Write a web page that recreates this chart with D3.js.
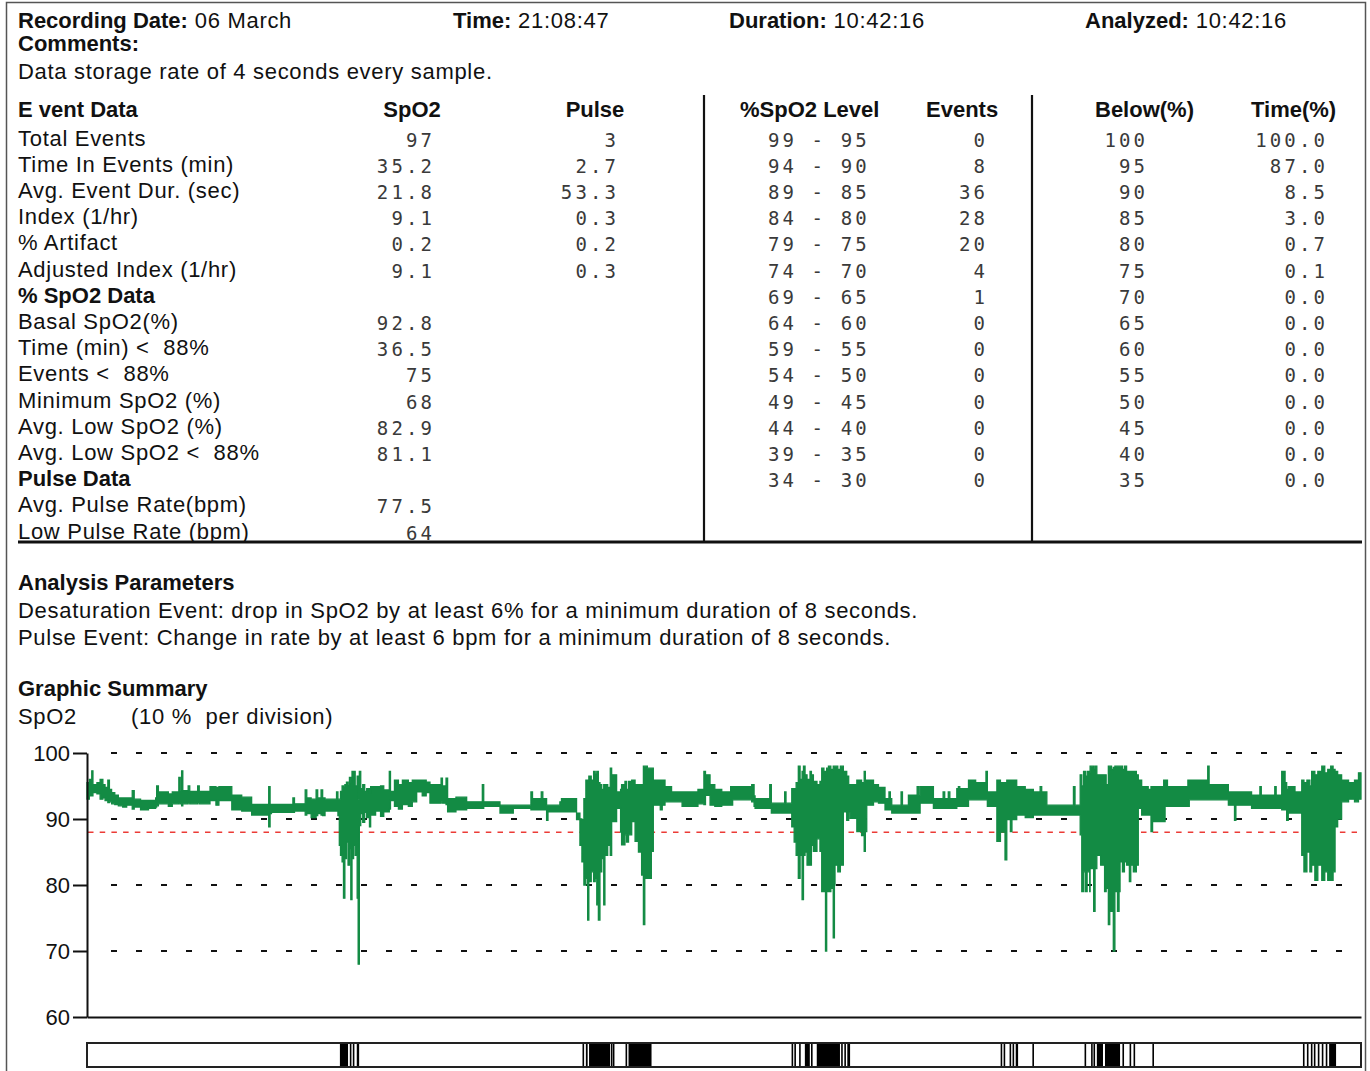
<!DOCTYPE html>
<html>
<head>
<meta charset="utf-8">
<script src="https://cdn.jsdelivr.net/npm/d3@7/dist/d3.min.js"></script>
<style>
  html, body { margin: 0; padding: 0; background: #fff; }
  svg { display: block; }
  text { font-family: "Liberation Sans", Arial, sans-serif; fill: #111; white-space: pre; }
  .b { font-weight: bold; }
  .n { letter-spacing: 0.7px; }
  .num { font-family: "DejaVu Sans Mono", "Liberation Mono", monospace; fill: #3a3a3a; font-size: 19px; letter-spacing: 3.1px; }
</style>
</head>
<body>
<svg id="rep" width="1370" height="1071"></svg>
<script>
// ---- Report header ----
const headerFields = [
  ["Recording Date:", "06 March"],
  ["Time:", "21:08:47"],
  ["Duration:", "10:42:16"],
  ["Analyzed:", "10:42:16"]
];
const commentText = "Data storage rate of 4 seconds every sample.";

// ---- Event data table (label, SpO2, Pulse); null values = section heading ----
const eventLabels = [
  "Total Events", "Time In Events (min)", "Avg. Event Dur. (sec)", "Index (1/hr)",
  "% Artifact", "Adjusted Index (1/hr)", "% SpO2 Data", "Basal SpO2(%)",
  "Time (min) <  88%", "Events <  88%", "Minimum SpO2 (%)", "Avg. Low SpO2 (%)",
  "Avg. Low SpO2 <  88%", "Pulse Data", "Avg. Pulse Rate(bpm)", "Low Pulse Rate (bpm)"
];
const eventSpO2  = ["97", "35.2", "21.8", "9.1", "0.2", "9.1", null, "92.8", "36.5", "75", "68", "82.9", "81.1", null, "77.5", "64"];
const eventPulse = ["3", "2.7", "53.3", "0.3", "0.2", "0.3", null, null, null, null, null, null, null, null, null, null];
const sectionRows = ["% SpO2 Data", "Pulse Data"];

// ---- SpO2 level distribution ----
const levelBands  = ["99 - 95", "94 - 90", "89 - 85", "84 - 80", "79 - 75", "74 - 70", "69 - 65",
                     "64 - 60", "59 - 55", "54 - 50", "49 - 45", "44 - 40", "39 - 35", "34 - 30"];
const levelEvents = [0, 8, 36, 28, 20, 4, 1, 0, 0, 0, 0, 0, 0, 0];
const belowPct    = [100, 95, 90, 85, 80, 75, 70, 65, 60, 55, 50, 45, 40, 35];
const timePct     = ["100.0", "87.0", "8.5", "3.0", "0.7", "0.1", "0.0", "0.0", "0.0", "0.0", "0.0", "0.0", "0.0", "0.0"];

// ---- Analysis parameters ----
const paramLines = [
  "Desaturation Event: drop in SpO2 by at least 6% for a minimum duration of 8 seconds.",
  "Pulse Event: Change in rate by at least 6 bpm for a minimum duration of 8 seconds."
];

// ---- SpO2 trend: [minute, low, high] band held until the next entry ----
const recordingMinutes = 642.27;
const spo2Bands = [
  [0,93,95.5],[1.2,93.5,96],[2.4,93.5,97.3],[3.0,94,95.2],[5.0,93.8,95.5],[6.6,93,96],[8.0,93.2,95.2],
  [9.1,92.8,94.8],[10.5,92.5,95.9],[11.3,92.6,94.5],[12.4,92.3,94],[14.0,92.2,93.6],[15.8,92,93.2],
  [18.0,91.8,93.2],[20.0,92.1,93.2],[22.8,91.5,94.3],[23.8,91.8,93],[27.0,91.4,92.8],[31.0,91.6,92.8],
  [34.6,91.8,93.2],[35.1,92,95],[36.0,92.3,94.1],[41.0,91.9,93.8],[43.0,92.3,94.1],[46.3,92.5,96.3],
  [47.0,92.3,94.2],[47.7,92,97.3],[48.3,92.3,94.3],[51.0,92.5,95],[51.8,92.3,94.2],[55.8,92.5,95],
  [56.6,92.3,94.2],[62.0,92.8,94.9],[65.0,92.1,94.8],[66.5,92.8,94.9],[73.0,91.4,93.6],[78.0,91.2,93.3],
  [83.0,90.6,92.2],[91.6,88.8,94.9],[92.3,90.8,92.2],[93.0,91,92.2],[103.8,91,93.2],[104.6,91.2,92.3],
  [110.0,90.6,94.4],[110.8,90.8,93.2],[113.0,90.2,93],[115.5,90.5,94.4],[116.3,90.8,93.2],[118.0,90.6,94.4],
  [118.8,90.5,93.2],[120.0,91.2,93],[125.8,91.2,94.1],[126.5,90.5,93],
  [127.2,86,93],[127.8,84.5,94.2],[128.6,83.5,95],[129.3,78,94.8],[130.0,84,95.2],[130.8,86.5,95.6],
  [131.6,83,95],[132.3,85.5,96.3],[133.0,77.8,95.5],[133.6,84,97.2],[134.4,86,97.2],[135.2,84.5,95],
  [136.2,78,96.5],[136.7,68,93],[137.3,89,97.2],[138.0,90.8,94.6],[139.0,89.5,95.2],[140.0,91,94.2],
  [141.0,90.2,94.6],[142.4,88.8,94.0],[143.0,90.6,94.9],[145.5,91.2,94.9],[148.0,90.4,95],[149.6,91.1,94.4],
  [152.4,91.5,97.2],[153.0,92.8,94.2],[155.0,91.9,95.9],[157.0,91.5,95.2],[159.0,92.2,95.9],[162.0,91.9,95.5],
  [164.0,92.6,95.9],[166.2,94.1,95.9],[169.0,93.5,95.9],[171.0,94,95.6],[172.9,92.4,95.2],[178.5,92.6,96.2],
  [179.2,92.4,95],[181.0,92.2,96.2],[181.8,91.1,93.1],[186.0,91.4,93.3],[191.4,91.6,92.6],[199.3,91.6,95.2],
  [200.0,91.9,92.6],[208.2,90.9,92.1],[214.9,91.6,92.1],[223.8,91.4,94.1],[224.6,91.4,93.1],[229.0,91.4,94.1],
  [229.8,91.4,93.1],[231.7,89.8,92.1],[232.4,91.1,92.1],[238.4,91.1,92.6],[239.2,91.1,93.1],[243.2,91.1,93.1],
  [246.8,89.9,90.9],
  [248.5,86,90],[249.5,83.5,89.9],[250.5,80,93.1],[251.5,81,95.9],[252.4,74.7,95.5],[253.0,80.5,96.5],
  [254.2,82,95.9],[255.4,80.5,97.2],[256.2,81,96.8],[257.0,77,97.2],[257.8,74.7,95.5],[258.6,82,95.2],
  [259.5,84,94.5],[260.5,77,95.2],[261.1,84.5,95.2],[262.5,86,94.8],[263.8,84.5,97.7],[264.5,89.6,96.7],
  [267.0,91.6,94.1],[269.0,88,94.5],[269.5,86.1,95.2],[271.2,87.6,95.7],[272.0,86.5,94.5],[273.0,87.6,95.7],
  [274.6,89.6,95.9],[276.3,86.6,95.2],[278.0,85,95.2],[279.6,81.5,95.2],[280.5,74,98],[281.2,81,98],
  [282.5,81,97.7],[283.8,81,97.7],[284.5,85.1,97.7],[285.5,92.1,95.9],[289.0,91.4,95.9],[290.0,92.1,95.9],
  [291.4,92.6,94.9],[294.7,92.6,94.1],[300.0,91.9,94.1],[308.0,92.3,94.5],[311.0,92.2,97.2],[311.8,93.6,96.7],
  [314.1,92.1,95.2],[316.5,91.9,94.5],[320.0,92.1,94.1],[324.5,92.1,94.9],[325.5,92.9,94.9],[335.1,92.6,95.2],
  [336.3,91.9,93.5],[336.8,91.6,93.1],[344.2,91.6,95.2],[345.0,90.9,92.4],[351.7,90.9,94.1],[352.4,90.9,92.4],
  [355.3,88.8,94.6],[356.5,86.5,94.6],[357.5,84.5,95.5],[358.6,81,98],[359.5,84.5,96],[360.5,77.8,97.2],
  [361.2,84.5,98],[362.0,85,96.7],[363.0,83,96],[364.5,83,97.2],[365.2,86,96.7],[366.2,85.1,95.7],
  [368.0,87,95.2],[369.5,85.1,95.7],[370.4,79,97.7],[371.5,79,97.2],[372.3,70,96.5],[372.9,79,97.7],
  [373.8,79,98],[375.0,79.5,97.5],[376.2,72,98],[376.8,80,98],[377.1,83,98],[378.5,82,97.5],[379.8,83,98],
  [381.3,91.1,97.2],[383.0,89.8,96.5],[384.0,91.1,95.2],
  [384.7,90.1,95.2],[388.1,88.1,95.9],[390.5,87.5,95.5],[391.8,85.1,97.2],[392.4,88.1,95.9],[393.1,92.1,95.9],
  [396.5,92.6,95.2],[399.0,92.4,94.8],[402.3,91.4,93.1],[404.3,91.4,94.1],[405.0,91.4,93.1],[405.7,90.9,92.1],
  [410.4,90.9,94.1],[411.1,90.9,92.1],[414.1,90.9,93.6],[418.5,90.9,94.9],[419.3,90.9,93.5],[420.0,92.4,94.9],
  [426.7,91.6,93.1],[431.6,91.6,94.1],[432.4,91.6,93.1],[434.2,91.6,94.1],[435.0,91.6,93.1],[438.5,91.9,94.6],
  [439.3,91.9,94.9],[440.0,91.9,94.6],[444.4,92.9,95.9],[448.0,92.9,95.5],[453.2,92.9,97.2],[453.9,91.9,94.1],
  [458.7,86.6,95.9],[460.5,88,95.5],[462.8,83.8,95.5],[463.7,89.9,95.9],[465.5,88.1,95.9],[466.3,89.9,95.9],
  [468.7,90.6,94.9],[473.0,90.2,94.5],[477.1,90.6,94.1],[480.5,90.6,94.9],[481.3,90.6,94.1],[483.9,90.6,92.1],
  [497.3,90.6,94.9],[498.1,90.6,92.1],
  [500.7,87.6,96.7],[501.5,79,95],[502.4,82,97.2],[503.3,79,96.5],[504.2,82,97.2],[505.5,79,97],
  [505.7,82.5,98],[507.5,76,97.5],[508.2,82.5,98],[509.1,84.5,96.7],[511.0,83,96.7],[513.0,79,96.7],
  [513.8,79.5,95.2],[514.9,74,98],[515.6,76,98],[516.5,76,97.5],[517.4,70,97.8],[518.2,79,98],
  [519.5,76,98],[520.3,79,98],[520.8,83.5,98],[522.0,82,97.5],[523.0,83.5,98],[524.1,83,97.2],
  [525.5,80.5,97.2],[526.2,83,97.2],[527.5,82,97.2],[529.0,83,96.7],[530.0,91.6,95.9],[531.7,90.6,94.9],
  [535.0,90.6,94.5],[536.4,88.1,94.9],[537.2,89.6,94.9],[541.0,89.6,94.9],[542.8,89.6,95.9],[543.5,91.9,95.9],
  [544.7,91.9,94.9],[555.0,91.9,95.9],[555.7,92.9,95.9],[565.0,92.9,98],[565.7,92.9,95.2],[575.4,92.1,94.1],
  [578.5,89.8,94.1],[579.2,92.1,94.1],[587.1,91.6,93.6],[591.3,91.6,94.9],[592.0,91.6,93.6],[598.8,91.6,94.9],
  [599.5,91.6,93.6],[602.3,91.4,97.2],[604.0,91.4,95.5],[604.8,89.8,94.5],[605.6,90.9,94.9],[609.0,90.9,94.1],
  [612.4,84.5,95.9],[613.5,82,95.5],[615.0,85,95.9],[616.5,82,95],[617.4,83,97.2],[619.0,80.7,96.7],
  [620.5,83,97.2],[622.5,80.7,98],[624.0,82,97],[625.5,80.7,97.5],[627.0,80.7,98],[628.2,82,97.5],
  [629.2,88.8,97.2],[630.5,90,96.7],[632.5,92.6,95.9],[636.0,93,95.5],[639.0,92.6,95.9],[641.0,93,97.0]
];

// ---- Desaturation events: [start minute, end minute] ----
const desatEvents = [
  [127.5,131.6],[132.5,133.2],[134.0,134.7],[136.0,137.2],
  [249.8,250.6],[251.5,252.4],[253.1,263.7],[264.1,264.8],[265.1,265.8],[271.5,272.3],[273.0,284.6],
  [355.2,356.0],[356.6,357.3],[359.0,359.8],[361.9,364.4],[365.0,365.7],[367.9,379.6],[380.2,380.9],
  [381.8,382.5],[383.3,384.7],
  [460.6,461.3],[462.1,462.8],[465.1,465.8],[466.6,467.3],[468.2,469.4],[476.6,477.3],
  [502.9,503.6],[506.2,506.9],[507.4,508.1],[509.1,512.2],[513.2,520.8],[522.0,522.7],[525.6,526.3],
  [527.6,528.3],[537.1,537.8],
  [613.0,613.7],[615.0,615.7],[617.0,617.7],[618.5,619.2],[620.5,621.2],[622.5,623.2],[624.5,625.2],
  [626.2,629.7]
];

const spo2Ticks = [60, 70, 80, 90, 100];
const gridLevels = [70, 80, 90, 100];
const desatThreshold = 88;

// ================= drawing =================
const svg = d3.select("#rep");

// page frame
svg.append("rect").attr("x", 6.5).attr("y", 2.5).attr("width", 1359).attr("height", 1100)
  .attr("fill", "none").attr("stroke", "#555").attr("stroke-width", 1.5);

const FS = 22;
function plain(g, x, y, txt) {
  return g.append("text").attr("class", "n").attr("x", x).attr("y", y).style("font-size", FS + "px").text(txt);
}
function labeled(g, x, y, bold, normal) {
  const t = g.append("text").attr("x", x).attr("y", y).style("font-size", FS + "px");
  t.append("tspan").attr("class", "b").text(bold);
  if (normal) t.append("tspan").attr("class", "n").text(" " + normal);
  return t;
}

// header line
const headerX = [18, 453, 729, 1085];
headerFields.forEach((f, i) => labeled(svg, headerX[i], 28, f[0], f[1]));
labeled(svg, 18, 51, "Comments:");
plain(svg, 18, 79, commentText);

// tables
svg.append("clipPath").attr("id", "tblclip").append("rect")
  .attr("x", 0).attr("y", 90).attr("width", 1370).attr("height", 451);
const tbl = svg.append("g").attr("clip-path", "url(#tblclip)");

const rowY = d3.scaleLinear().domain([0, 1]).range([145.5, 171.7]);

tbl.append("text").attr("class", "b").attr("x", 18).attr("y", 117).style("font-size", FS + "px").text("E vent Data");
tbl.append("text").attr("class", "b").attr("x", 412).attr("y", 117).attr("text-anchor", "middle").style("font-size", FS + "px").text("SpO2");
tbl.append("text").attr("class", "b").attr("x", 595).attr("y", 117).attr("text-anchor", "middle").style("font-size", FS + "px").text("Pulse");

eventLabels.forEach((lab, i) => {
  const isSection = sectionRows.includes(lab);
  if (isSection)
    tbl.append("text").attr("class", "b").attr("x", 18).attr("y", rowY(i)).style("font-size", FS + "px").text(lab);
  else
    plain(tbl, 18, rowY(i), lab);
  if (eventSpO2[i] !== null)
    tbl.append("text").attr("class", "num").attr("x", 435).attr("y", rowY(i) + 1).attr("text-anchor", "end").text(eventSpO2[i]);
  if (eventPulse[i] !== null)
    tbl.append("text").attr("class", "num").attr("x", 619).attr("y", rowY(i) + 1).attr("text-anchor", "end").text(eventPulse[i]);
});

[["%SpO2 Level", 740], ["Events", 926], ["Below(%)", 1095], ["Time(%)", 1251]].forEach(h =>
  tbl.append("text").attr("class", "b").attr("x", h[1]).attr("y", 117).style("font-size", FS + "px").text(h[0]));

levelBands.forEach((b, i) => {
  const yy = rowY(i) + 1;
  tbl.append("text").attr("class", "num").attr("x", 768).attr("y", yy).text(b);
  tbl.append("text").attr("class", "num").attr("x", 988).attr("y", yy).attr("text-anchor", "end").text(levelEvents[i]);
  tbl.append("text").attr("class", "num").attr("x", 1148).attr("y", yy).attr("text-anchor", "end").text(belowPct[i]);
  tbl.append("text").attr("class", "num").attr("x", 1328).attr("y", yy).attr("text-anchor", "end").text(timePct[i]);
});

// table rules
[704, 1032].forEach(xv => svg.append("line").attr("x1", xv).attr("x2", xv).attr("y1", 95).attr("y2", 542)
  .attr("stroke", "#111").attr("stroke-width", 2.2));
svg.append("line").attr("x1", 18).attr("x2", 1362).attr("y1", 542).attr("y2", 542)
  .attr("stroke", "#111").attr("stroke-width", 3);

// analysis parameters
labeled(svg, 18, 590, "Analysis Parameters");
paramLines.forEach((t, i) => plain(svg, 18, 618 + i * 27, t));
labeled(svg, 18, 696, "Graphic Summary");
plain(svg, 18, 724, "SpO2");
plain(svg, 131, 724, "(10 %  per division)");

// ---- SpO2 trend plot ----
const x = d3.scaleLinear().domain([0, recordingMinutes]).range([87, 1361]);
const y = d3.scaleLinear().domain([60, 100]).range([1017, 753]);

// dotted division lines
svg.append("g").selectAll("line").data(gridLevels).join("line")
  .attr("x1", 111).attr("x2", 1342).attr("y1", d => y(d)).attr("y2", d => y(d))
  .attr("stroke", "#111").attr("stroke-width", 2).attr("stroke-dasharray", "6,19");

// desaturation threshold
svg.append("line").attr("x1", 88).attr("x2", 1357).attr("y1", y(desatThreshold)).attr("y2", y(desatThreshold))
  .attr("stroke", "#ec3b36").attr("stroke-width", 1.6).attr("stroke-dasharray", "5.5,6.2");

// trend band
const trend = spo2Bands.concat([[recordingMinutes, spo2Bands[spo2Bands.length - 1][1], spo2Bands[spo2Bands.length - 1][2]]]);
const band = d3.area().curve(d3.curveStepAfter)
  .x(d => x(d[0])).y0(d => y(d[1])).y1(d => y(d[2]));
svg.append("path").datum(trend).attr("d", band)
  .attr("fill", "#138b44").attr("stroke", "#138b44").attr("stroke-width", 1.3).attr("stroke-linejoin", "miter");

// axes
const yAxis = svg.append("g").attr("transform", "translate(87,0)")
  .call(d3.axisLeft(y).tickValues(spo2Ticks).tickSize(14).tickSizeOuter(0).tickPadding(3).tickFormat(d3.format("d")));
yAxis.selectAll("text").style("font-family", "'Liberation Sans', Arial, sans-serif").style("font-size", "22px").attr("fill", "#1a1a1a");
yAxis.selectAll("line, path").attr("stroke", "#111").attr("stroke-width", 2);

const xAxis = svg.append("g").attr("transform", "translate(0,1017)")
  .call(d3.axisBottom(x).tickValues([]).tickSizeOuter(0));
xAxis.selectAll("path").attr("stroke", "#111").attr("stroke-width", 2);

// event bar
svg.append("g").selectAll("rect").data(desatEvents).join("rect")
  .attr("x", d => x(d[0])).attr("width", d => Math.max(1.6, x(d[1]) - x(d[0])))
  .attr("y", 1043).attr("height", 24).attr("fill", "#000");
svg.append("rect").attr("x", x(0)).attr("y", 1043).attr("width", x(recordingMinutes) - x(0)).attr("height", 24)
  .attr("fill", "none").attr("stroke", "#222").attr("stroke-width", 2);
</script>
</body>
</html>
